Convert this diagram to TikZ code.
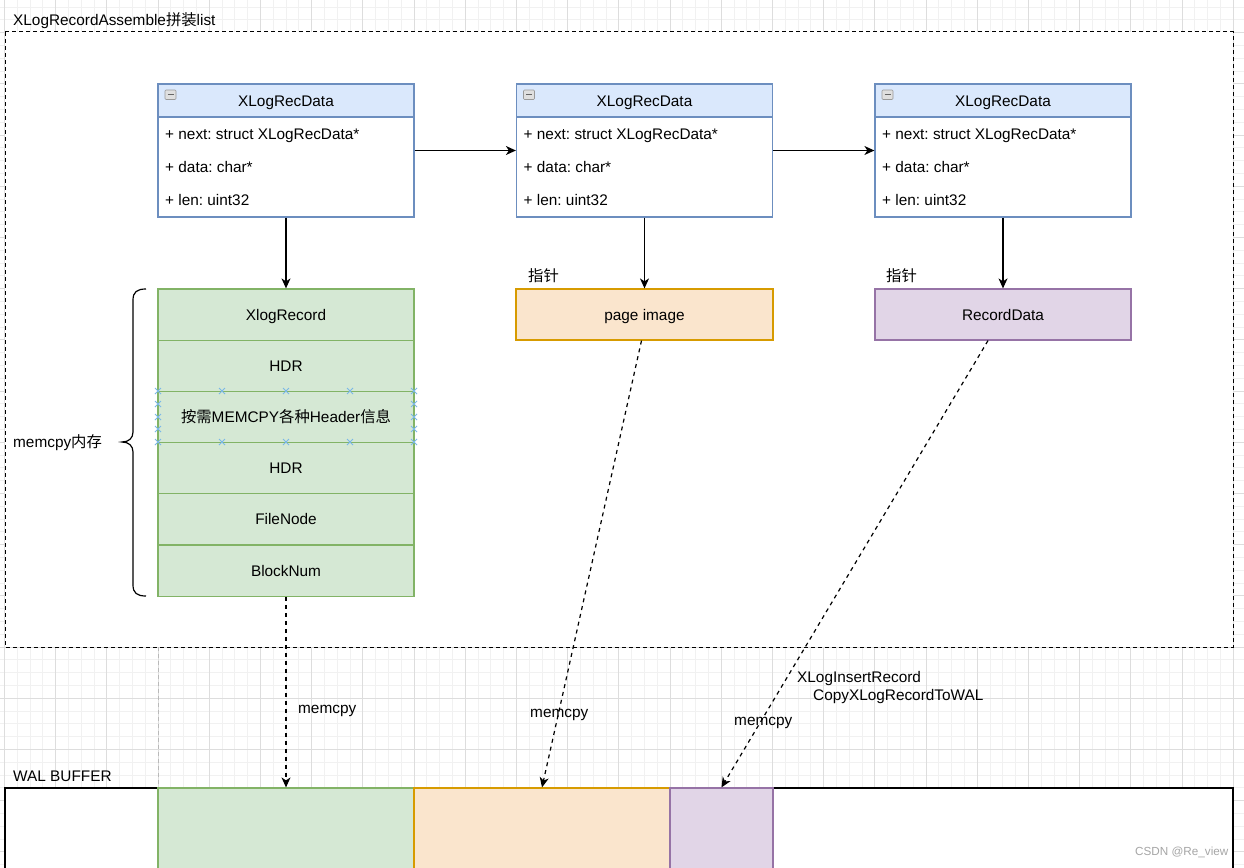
\documentclass[tikz,border=0pt]{standalone}
\usepackage{fontspec}
\setmainfont{Liberation Sans}
\newfontfamily\cjk{Noto Sans CJK SC}
\usetikzlibrary{arrows.meta,calc}
\definecolor{clsF}{HTML}{DAE8FC}
\definecolor{clsS}{HTML}{6C8EBF}
\definecolor{grF}{HTML}{D5E8D4}
\definecolor{grS}{HTML}{82B366}
\definecolor{orF}{HTML}{FAE5CD}
\definecolor{orS}{HTML}{D79B00}
\definecolor{puF}{HTML}{E1D5E7}
\definecolor{puS}{HTML}{9673A6}
\definecolor{xmk}{HTML}{7AB8E8}
\definecolor{gminor}{HTML}{F1F1F1}
\definecolor{gmajor}{HTML}{DDDDDD}
\frenchspacing
\begin{document}
\begin{tikzpicture}[x=1pt,y=-1pt, font=\fontsize{15.36}{18}\selectfont\frenchspacing,
  every node/.style={text height=13pt, text depth=2pt},
  cls/.style={draw=clsS, fill=white, line width=1.2pt, minimum width=256pt, minimum height=133pt, inner sep=0pt},
  clshead/.style={draw=clsS, fill=clsF, line width=1.2pt, minimum width=256pt, minimum height=33pt, inner sep=0pt},
  cell/.style={draw=grS, fill=grF, line width=1.2pt, minimum width=256pt, minimum height=51.2pt, inner sep=0pt},
  orbox/.style={draw=orS, fill=orF, line width=1.2pt, minimum width=257pt, minimum height=51pt, inner sep=0pt},
  pubox/.style={draw=puS, fill=puF, line width=1.2pt, minimum width=256pt, minimum height=51pt, inner sep=0pt},
  lbl/.style={inner sep=0pt, anchor=west},
  arr/.style={line width=1.2pt, -{Stealth[length=10pt,width=9pt,inset=3pt]}},
  darr/.style={arr, dash pattern=on 4pt off 4pt},
  xm/.style={xmk, line width=1pt},
  icon/.style={draw=gray!80, fill=gray!25, rounded corners=1pt, line width=0.6pt},
]
\useasboundingbox (0,0) rectangle (1244,867);
\clip (0,0) rectangle (1244,867);
\fill[white] (0,0) rectangle (1244,867);
% grid
\foreach \k in {0,...,96} \draw[gminor, line width=0.8pt] ({4.4+12.8*\k},0) -- ({4.4+12.8*\k},867);
\foreach \k in {0,...,67} \draw[gminor, line width=0.8pt] (0,{7+12.8*\k}) -- (1244,{7+12.8*\k});
\foreach \k in {0,...,24} \draw[gmajor, line width=0.8pt] ({4.4+51.2*\k},0) -- ({4.4+51.2*\k},867);
\foreach \k in {0,...,16} \draw[gmajor, line width=0.8pt] (0,{32.6+51.2*\k}) -- (1244,{32.6+51.2*\k});
% title
\node[lbl] (title) at (13,20) {XLogRecordAssemble{\cjk 拼装}list};
% container
\draw[fill=white, line width=1pt, dash pattern=on 4pt off 3pt] (5,32) rectangle (1233,647);
% faint dashed line
\draw[gray!55, line width=0.9pt, dash pattern=on 4pt off 3pt] (158,647) -- (158,788);
% class boxes
\foreach \n/\cx in {1/286, 2/644.5, 3/1003}{
  \node[cls] (box\n) at (\cx,150.5) {};
  \node[clshead] (head\n) at (\cx,100.5) {XLogRecData};
  \draw[icon] (\cx-121,90) rectangle (\cx-110,99.5);
  \draw[gray!80!black, line width=1.1pt] (\cx-118.5,94.8) -- (\cx-112.5,94.8);
  \node[lbl] (next\n) at (\cx-121,134) {+ next: struct XLogRecData*};
  \node[lbl] (data\n) at (\cx-121,167) {+ data: char*};
  \node[lbl] (len\n) at (\cx-121,200) {+ len: uint32};
}
% stack
\node[cell] (xr) at (286,314.6) {XlogRecord};
\node[cell] (hdr1) at (286,365.8) {HDR};
\node[cell] (mem) at (286,417) {{\cjk 按需}MEMCPY{\cjk 各种}Header{\cjk 信息}};
\node[cell] (hdr2) at (286,468.2) {HDR};
\node[cell] (fn) at (286,519.4) {FileNode};
\node[cell] (blk) at (286,570.6) {BlockNum};
% markers
\foreach \px/\py in {158/391,222/391,286/391,350/391,414/391,158/442,222/442,286/442,350/442,414/442,158/404,158/417,158/429,414/404,414/417,414/429}{
  \draw[xm] (\px-3,\py-3) -- (\px+3,\py+3) (\px-3,\py+3) -- (\px+3,\py-3);
}
% brace
\draw[line width=1.2pt] (146,289) .. controls (137,289) and (133,292) .. (133,300) -- (133,432)
  .. controls (133,438) and (129,442) .. (122,442) .. controls (129,442) and (133,446) .. (133,452)
  -- (133,585) .. controls (133,593) and (137,596) .. (146,596);
\node[lbl] (memlbl) at (13,442) {memcpy{\cjk 内存}};
% page image and record data
\node[orbox] (pg) at (644.5,314.5) {page image};
\node[pubox] (rd) at (1003,314.5) {RecordData};
\node[lbl] (ptr1) at (528,276) {\cjk 指针};
\node[lbl] (ptr2) at (886,276) {\cjk 指针};
% solid arrows
\draw[arr] (box1.east) -- (box2.west);
\draw[arr] (box2.east) -- (box3.west);
\draw[arr] (box1.south) -- (xr.north);
\draw[arr] (box2.south) -- (pg.north);
\draw[arr] (box3.south) -- (rd.north);
% WAL buffer
\node[lbl] (wal) at (13,776) {WAL BUFFER};
\draw[fill=white, line width=1.2pt] (5,788) rectangle (1233,900);
\node[draw=grS, fill=grF, line width=1.2pt, minimum width=256pt, minimum height=112pt, inner sep=0pt] (w1) at (286,844) {};
\node[draw=orS, fill=orF, line width=1.2pt, minimum width=256pt, minimum height=112pt, inner sep=0pt] (w2) at (542,844) {};
\node[draw=puS, fill=puF, line width=1.2pt, minimum width=103pt, minimum height=112pt, inner sep=0pt] (w3) at (721.5,844) {};
% dashed arrows
\draw[darr] (blk.south) -- (w1.north);
\draw[darr] ($(pg.south)+(-3,0)$) -- (w2.north);
\draw[darr] ($(rd.south)+(-15,0)$) -- (w3.north);
\node[lbl] (m1) at (298,708) {memcpy};
\node[lbl] (m2) at (530,712) {memcpy};
\node[lbl] (m3) at (734,720) {memcpy};
\node[lbl] (xl1) at (797,677) {XLogInsertRecord};
\node[lbl] (xl2) at (813,695) {CopyXLogRecordToWAL};
% watermark
\node[lbl, text=gray!70, font=\fontsize{11.7}{14}\selectfont, text height=10pt, text depth=1.5pt] (wm) at (1135,851) {CSDN @Re\_view};
\end{tikzpicture}
\end{document}
